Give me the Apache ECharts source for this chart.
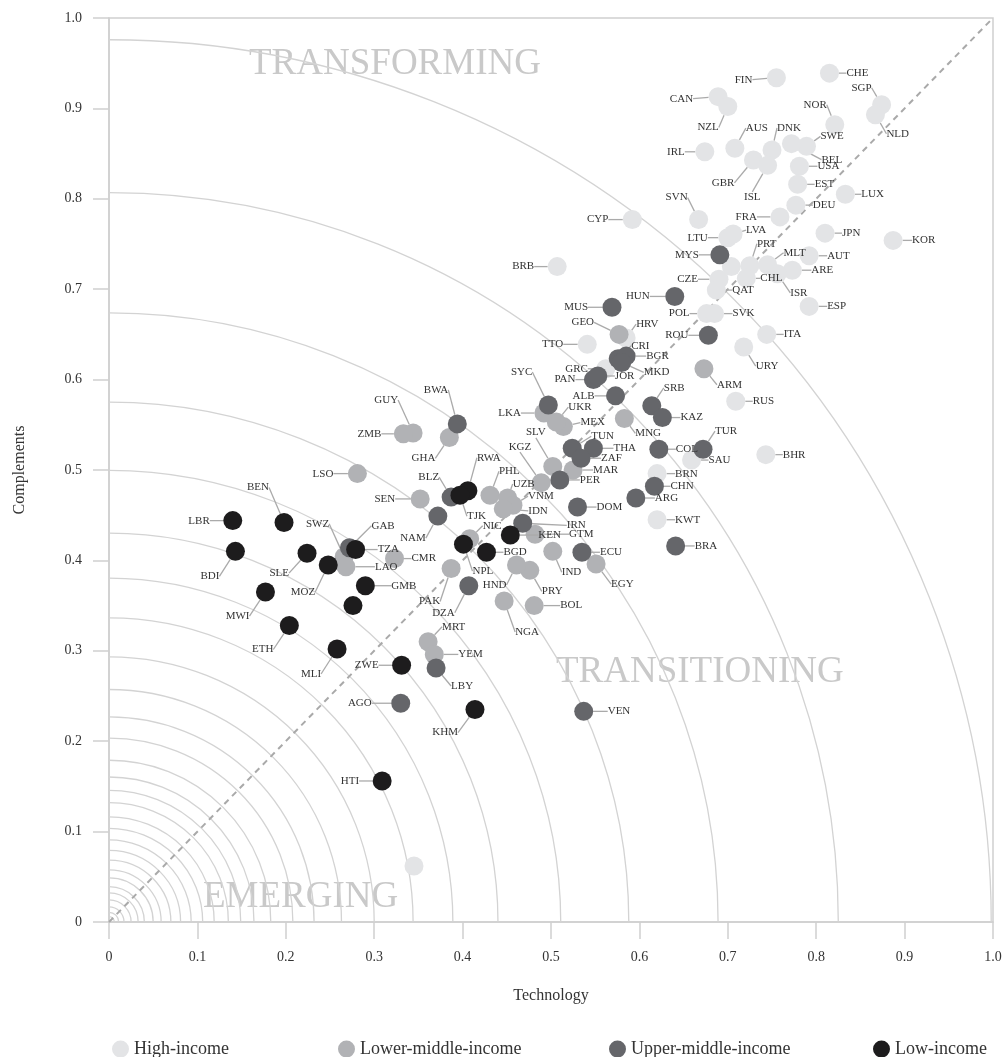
<!DOCTYPE html>
<html>
<head>
<meta charset="utf-8">
<script src="https://cdn.jsdelivr.net/npm/echarts@6/dist/echarts.min.js"></script>
<style>
  html, body { margin: 0; padding: 0; background: #fff; }
  #chart { width: 1008px; height: 1057px; }
</style>
</head>
<body>
<div id="chart"></div>
<script>
// income groups
const groupNames = ['High-income', 'Lower-middle-income', 'Upper-middle-income', 'Low-income'];
const groupColors = ['#e3e4e6', '#b1b2b5', '#65666a', '#1d1c1d'];

// High-income
const highCodes = ['FIN','CHE','SGP','NOR','NLD','CAN','NZL','AUS','DNK','SWE','BEL','IRL','GBR','ISL','USA','EST','DEU','LUX','FRA','SVN','CYP','JPN','KOR','LTU','LVA','PRT','MLT','AUT','ARE','CHL','ISR','CZE','QAT','POL','SVK','ESP','ITA','URY','HRV','TTO','GRC','RUS','BHR','BRB','SAU','BRN','KWT','',''];
const highTech = [0.755,0.815,0.874,0.821,0.867,0.689,0.700,0.708,0.750,0.789,0.772,0.674,0.729,0.745,0.781,0.779,0.777,0.833,0.759,0.667,0.592,0.810,0.887,0.700,0.706,0.725,0.745,0.792,0.773,0.721,0.756,0.690,0.687,0.676,0.685,0.792,0.744,0.718,0.585,0.541,0.562,0.709,0.743,0.507,0.659,0.620,0.620,0.345,0.704];
const highComp = [0.934,0.939,0.904,0.882,0.893,0.913,0.902,0.856,0.854,0.858,0.861,0.852,0.843,0.837,0.836,0.816,0.793,0.805,0.780,0.777,0.777,0.762,0.754,0.757,0.761,0.726,0.727,0.737,0.721,0.712,0.717,0.711,0.699,0.673,0.673,0.681,0.650,0.636,0.646,0.639,0.612,0.576,0.517,0.725,0.511,0.496,0.445,0.062,0.725];

// Lower-middle-income
const lowerMidCodes = ['GEO','ARM','MNG','MEX','UKR','LKA','SLV','KGZ','MAR','EGY','IND','GTM','PRY','HND','BOL','NGA','PAK','MRT','YEM','GUY','ZMB','GHA','LSO','SEN','PHL','UZB','VNM','IDN','SWZ','LAO','CMR','NIC'];
const lowerMidTech = [0.577,0.673,0.583,0.514,0.506,0.492,0.502,0.489,0.525,0.551,0.502,0.482,0.476,0.461,0.481,0.447,0.387,0.361,0.368,0.344,0.333,0.385,0.281,0.352,0.431,0.451,0.457,0.446,0.266,0.268,0.323,0.408];
const lowerMidComp = [0.650,0.612,0.557,0.548,0.553,0.563,0.504,0.486,0.500,0.396,0.410,0.429,0.389,0.395,0.350,0.355,0.391,0.310,0.296,0.541,0.540,0.536,0.496,0.468,0.472,0.469,0.461,0.457,0.404,0.393,0.402,0.424];

// Upper-middle-income
const upperMidCodes = ['MYS','HUN','MUS','ROU','CRI','BGR','MKD','PAN','JOR','ALB','SRB','KAZ','SYC','TUN','THA','ZAF','PER','COL','TUR','CHN','ARG','BRA','DOM','ECU','IRN','DZA','LBY','AGO','VEN','BWA','BLZ','NAM','GAB'];
const upperMidTech = [0.691,0.640,0.569,0.678,0.576,0.585,0.580,0.548,0.553,0.573,0.614,0.626,0.497,0.524,0.548,0.534,0.510,0.622,0.672,0.617,0.596,0.641,0.530,0.535,0.468,0.407,0.370,0.330,0.537,0.394,0.387,0.372,0.272];
const upperMidComp = [0.738,0.692,0.680,0.649,0.623,0.626,0.619,0.600,0.604,0.582,0.571,0.558,0.572,0.524,0.524,0.513,0.489,0.523,0.523,0.482,0.469,0.416,0.459,0.409,0.441,0.372,0.281,0.242,0.233,0.551,0.470,0.449,0.414];

// Low-income
const lowCodes = ['LBR','BEN','BDI','SLE','MOZ','TZA','GMB','MWI','ETH','MLI','ZWE','KHM','HTI','RWA','TJK','NPL','BGD','KEN',''];
const lowTech = [0.140,0.198,0.143,0.224,0.248,0.279,0.290,0.177,0.204,0.258,0.331,0.414,0.309,0.406,0.397,0.401,0.427,0.454,0.276];
const lowComp = [0.444,0.442,0.410,0.408,0.395,0.412,0.372,0.365,0.328,0.302,0.284,0.235,0.156,0.477,0.472,0.418,0.409,0.428,0.350];

// ripple rings around the origin (radius in technology units)
const ringRadii = [0.998,0.825,0.689,0.588,0.511,0.440,0.389,0.344,0.300,0.263,0.232,0.208,0.183,0.164,0.149,0.135,0.119,0.106,0.093,0.081,0.070,0.059,0.050,0.040,0.033,0.025,0.017,0.011,0.006];

const tickLabels = ['0','0.1','0.2','0.3','0.4','0.5','0.6','0.7','0.8','0.9','1.0'];

// label offset from its dot in px: [x, y]; x<0 label ends there, x>0 label starts there
const labelPos = {
  FIN:[-24,2],CHE:[17,0],SGP:[-10,-17],NOR:[-8,-20],NLD:[11,19],CAN:[-25,2],NZL:[-9,21],AUS:[11,-20],DNK:[5,-22],
  SWE:[14,-10],BEL:[30,16],IRL:[-20,0],GBR:[-19,23],ISL:[-7,32],USA:[18,0],EST:[17,0],DEU:[17,0],LUX:[16,0],FRA:[-23,0],
  SVN:[-11,-22],CYP:[-24,0],JPN:[17,0],KOR:[19,0],LTU:[-20,0],LVA:[13,-4],PRT:[7,-22],MLT:[16,-12],AUT:[18,0],ARE:[19,0],
  CHL:[14,0],ISR:[13,19],CZE:[-21,0],QAT:[16,0],POL:[-17,0],SVK:[18,0],ESP:[18,0],ITA:[17,0],URY:[12,19],HRV:[10,-14],
  TTO:[-24,0],GRC:[-18,0],RUS:[17,0],BHR:[17,0],BRB:[-23,0],SAU:[17,0],BRN:[18,0],KWT:[18,0],
  GEO:[-25,-12],ARM:[13,16],MNG:[11,15],MEX:[17,-4],UKR:[12,-15],LKA:[-23,0],SLV:[-7,-34],KGZ:[-10,-36],MAR:[20,0],
  EGY:[15,20],IND:[9,21],GTM:[34,0],PRY:[12,21],HND:[-10,20],BOL:[26,0],NGA:[11,31],PAK:[-11,33],MRT:[14,-15],YEM:[24,0],
  GUY:[-15,-33],ZMB:[-22,0],GHA:[-14,21],LSO:[-24,0],SEN:[-25,0],PHL:[9,-24],UZB:[5,-14],VNM:[15,-9],IDN:[25,2],
  SWZ:[-15,-33],LAO:[29,0],CMR:[17,0],NIC:[13,-13],
  MYS:[-21,0],HUN:[-25,0],MUS:[-24,0],ROU:[-20,0],CRI:[13,-13],BGR:[20,0],MKD:[22,10],PAN:[-18,0],JOR:[17,0],ALB:[-21,0],
  SRB:[12,-18],KAZ:[18,0],SYC:[-16,-33],TUN:[19,-12],THA:[20,0],ZAF:[20,0],PER:[20,0],COL:[17,0],TUR:[12,-18],CHN:[16,0],
  ARG:[19,0],BRA:[19,0],DOM:[19,0],ECU:[18,0],IRN:[44,2],DZA:[-14,27],LBY:[15,18],AGO:[-29,0],VEN:[24,0],BWA:[-9,-34],
  BLZ:[-12,-20],NAM:[-12,22],GAB:[22,-22],
  LBR:[-23,0],BEN:[-15,-35],BDI:[-16,25],SLE:[-18,20],MOZ:[-13,27],TZA:[22,0],GMB:[26,0],MWI:[-16,24],ETH:[-16,24],
  MLI:[-16,25],ZWE:[-23,0],KHM:[-17,23],HTI:[-23,0],RWA:[9,-33],TJK:[7,21],NPL:[9,27],BGD:[17,0],KEN:[28,0]
};

const groups = [
  [highCodes, highTech, highComp],
  [lowerMidCodes, lowerMidTech, lowerMidComp],
  [upperMidCodes, upperMidTech, upperMidComp],
  [lowCodes, lowTech, lowComp]
];

const serif = '"Liberation Serif", "DejaVu Serif", serif';

function placeLabel(p) {
  const g = groups[p.seriesIndex - 2];
  if (!g) return {};
  const code = g[0][p.dataIndex];
  const off = labelPos[code] || [18, 0];
  const cx = p.rect.x + p.rect.width / 2;
  const cy = p.rect.y + p.rect.height / 2;
  const w = p.labelRect.width, h = p.labelRect.height;
  const x = off[0] < 0 ? cx + off[0] - w : cx + off[0];
  const y = cy + off[1] - h / 2;
  return { x: x, y: y, align: 'left', verticalAlign: 'top' };
}

const scatterSeries = groups.map(function (g, gi) {
  return {
    name: groupNames[gi],
    type: 'scatter',
    symbolSize: 19,
    z: 3 + gi,
    itemStyle: { color: groupColors[gi], opacity: 1 },
    label: {
      show: true,
      position: 'inside',
      formatter: '{b}',
      fontFamily: serif,
      fontSize: 11,
      color: '#333'
    },
    labelLine: { show: true, lineStyle: { color: '#aaa', width: 1.3 } },
    labelLayout: placeLabel,
    emphasis: { disabled: true },
    data: g[0].map(function (code, i) {
      return { name: code, value: [g[1][i], g[2][i]], label: { show: code !== '' } };
    })
  };
});

const legendLefts = [107, 333, 604, 868];

const chart = echarts.init(document.getElementById('chart'));

chart.setOption({
  animation: false,
  backgroundColor: '#fff',
  grid: { left: 109, right: 15, top: 18, bottom: 135, show: true, borderColor: '#cfcfcf', borderWidth: 1.5 },
  legend: groupNames.map(function (n, i) {
    return {
      data: [n],
      left: legendLefts[i],
      top: 1035,
      icon: 'circle',
      itemWidth: 17,
      itemHeight: 17,
      textStyle: { fontFamily: serif, fontSize: 18, color: '#333' }
    };
  }),
  xAxis: {
    type: 'value', min: 0, max: 1, interval: 0.1,
    name: 'Technology', nameLocation: 'middle', nameGap: 66,
    nameTextStyle: { fontFamily: serif, fontSize: 16, color: '#333' },
    axisLine: { show: true, lineStyle: { color: '#cfcfcf', width: 1.5 } },
    axisTick: { show: true, length: 17, lineStyle: { color: '#cfcfcf', width: 1.5 } },
    axisLabel: { margin: 28, fontFamily: serif, fontSize: 14, color: '#333', formatter: function (v) { return tickLabels[Math.round(v * 10)]; } },
    splitLine: { show: false }
  },
  yAxis: {
    type: 'value', min: 0, max: 1, interval: 0.1,
    name: 'Complements', nameLocation: 'middle', nameGap: 81, nameRotate: 90,
    nameTextStyle: { fontFamily: serif, fontSize: 16, color: '#333' },
    axisLine: { show: true, lineStyle: { color: '#cfcfcf', width: 1.5 } },
    axisTick: { show: true, length: 16, lineStyle: { color: '#cfcfcf', width: 1.5 } },
    axisLabel: { margin: 27, fontFamily: serif, fontSize: 14, color: '#333', formatter: function (v) { return tickLabels[Math.round(v * 10)]; } },
    splitLine: { show: false }
  },
  graphic: [
    { type: 'text', left: 249, top: 46, z: 1, silent: true, style: { text: 'TRANSFORMING', font: '37px ' + serif, fill: '#c9c9c9' } },
    { type: 'text', left: 556, top: 654, z: 1, silent: true, style: { text: 'TRANSITIONING', font: '37px ' + serif, fill: '#c9c9c9' } },
    { type: 'text', left: 203, top: 879, z: 1, silent: true, style: { text: 'EMERGING', font: '37px ' + serif, fill: '#c9c9c9' } }
  ],
  series: [
    {
      type: 'custom',
      silent: true,
      clip: true,
      z: 1,
      data: [[0, 0]],
      renderItem: function (params, api) {
        const o = api.coord([0, 0]);
        const unit = api.size([1, 0])[0];
        return {
          type: 'group',
          children: ringRadii.map(function (r) {
            return {
              type: 'circle',
              shape: { cx: o[0], cy: o[1], r: r * unit },
              style: { fill: null, stroke: '#d3d3d3', lineWidth: 1.3 }
            };
          })
        };
      }
    },
    {
      type: 'line',
      silent: true,
      z: 2,
      symbol: 'none',
      lineStyle: { color: '#a9a9a9', width: 2, type: [6, 5] },
      data: [[0, 0], [1, 1]]
    }
  ].concat(scatterSeries)
});
</script>
</body>
</html>
